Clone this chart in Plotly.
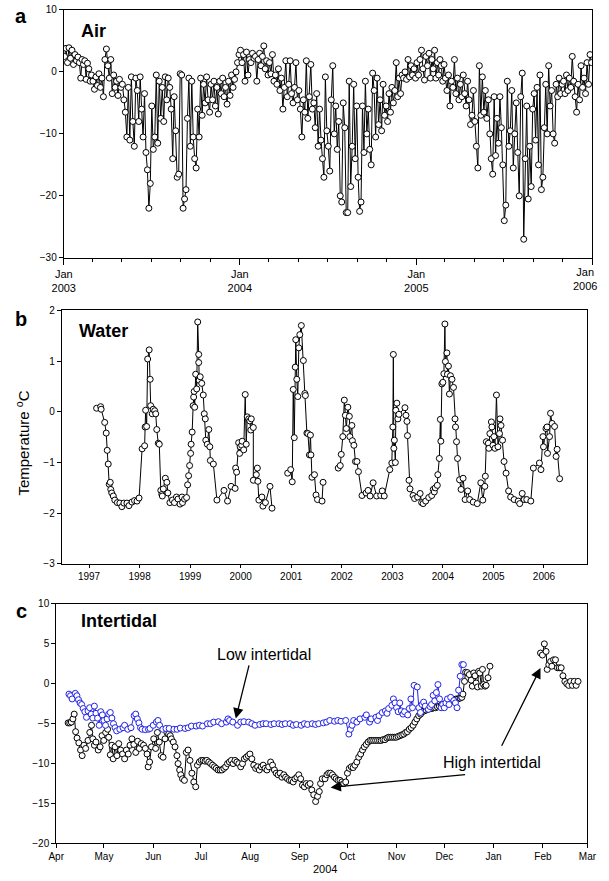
import pandas as pd
import plotly.graph_objects as go

W, H = 609, 881

# ---------------- Panel a: Air (per month, ~every 3 days) ----------------
air_2003 = [
    [2.5, 3.8, 1.5, 3.9, 2.2, 3.5, 1.2, 2.8, 1.8, 2.4],
    [1.5, -1.0, 2.0, 1.2, 1.8, -1.2, 1.4, 0.5, -1.5, -0.5],
    [-1.5, -2.8, -0.8, -2.2, -0.3, -2.5, -1.0, -4.0, 2.0, 3.7],
    [1.0, -1.0, 2.0, -3.5, -0.5, -2.5, -1.5, -3.8, -1.2, -2.5],
    [-2.0, -4.5, -6.5, -10.5, -2.5, -11.0, -0.8, -8.0, -12.0, -1.0],
    [-3.0, -8.0, -0.8, -6.0, -10.5, -3.5, -13.0, -15.8, -22.0, -18.0],
    [-5.5, -12.5, -10.5, -0.5, -11.5, -1.5, -7.5, -2.5, -8.0, -0.8],
    [-4.5, -1.0, -2.5, -6.0, -14.0, -4.0, -9.5, -17.0, -16.5, -0.3],
    [-0.5, -22.0, -20.5, -19.0, -7.5, -1.0, -12.0, -1.5, -10.5, -14.0],
    [-15.5, -6.0, -10.5, -1.0, -7.0, -2.0, -5.0, -0.8, -4.5, -6.5],
    [-2.0, -4.5, -1.5, -5.5, -2.5, -6.8, -1.5, -3.5, -1.0, -4.0],
    [-2.5, -5.2, -1.5, -3.8, -0.5, -2.5, -1.2, 0.0, 1.5, 2.8],
]
air_2004 = [
    [3.5, 1.5, 2.8, -1.5, 3.2, -0.5, 2.0, 1.5, 3.0, 2.2],
    [2.5, -1.5, 2.0, 3.0, 1.0, 2.5, 4.2, 0.5, 1.8, -0.5],
    [1.5, -0.3, 2.8, -1.5, -0.5, -2.0, 0.5, -3.0, -1.0, -6.0],
    [-2.5, 1.8, -4.0, -2.0, 1.8, -3.5, -5.0, -2.5, 1.5, -4.5],
    [-3.0, -6.0, -10.5, -4.5, -6.5, 1.8, -7.5, -4.0, 1.2, -6.0],
    [-5.0, -9.0, -3.5, -12.0, -6.0, -11.0, -14.0, -17.0, -0.8, -9.5],
    [-12.0, -16.0, -4.5, 1.0, -10.0, -5.5, -12.5, -8.0, -20.0, -21.0],
    [-5.0, -9.0, -22.7, -22.7, -1.5, -18.5, -12.0, -2.0, -14.0, -5.5],
    [-17.0, -22.5, -21.0, -5.5, -13.0, -1.5, -10.0, -6.0, -12.5, -15.0],
    [-0.2, -3.0, -10.5, -1.0, -8.5, -4.5, -9.5, -2.0, -7.0, -5.5],
    [-8.0, -3.5, -6.5, -2.5, -5.0, -3.0, 1.5, -4.0, -1.0, -3.5],
    [-0.5, -1.0, 0.0, -1.2, 2.0, -0.8, 1.0, -0.5, 0.5, -1.0],
]
air_2005 = [
    [1.5, -0.5, 2.0, 3.5, 0.5, -1.3, 2.5, 1.0, 3.0, -1.0],
    [2.0, 0.5, 3.5, -1.0, 1.5, -0.5, 2.0, 1.0, -1.5, 1.2],
    [-1.0, -3.0, -0.5, -5.5, -1.5, -2.5, 2.0, -3.5, -1.0, -4.5],
    [-2.0, -4.0, -0.5, -3.5, -5.5, -1.5, -4.5, -8.5, -7.0, -3.0],
    [-8.0, -12.0, -15.5, 1.0, -7.0, -0.8, -6.5, -3.0, -7.5, -4.5],
    [-10.0, -14.0, -16.5, -4.0, -13.5, -7.5, -11.5, -4.0, -9.0, -15.0],
    [-24.0, -21.5, -1.5, -12.0, -9.5, -3.0, -15.5, -10.0, -5.0, -13.0],
    [-20.0, -4.0, -0.2, -27.0, -14.0, -5.5, -20.5, -12.0, -18.5, -6.0],
    [-3.5, -11.0, -2.5, -15.0, -0.5, -19.0, -17.0, -9.0, -2.0, -10.0],
    [1.0, -5.5, -3.0, -10.0, -11.5, -2.0, -4.0, -1.0, -3.5, -2.0],
    [-1.5, -3.5, -0.5, -3.0, -1.0, -2.5, 2.5, -1.5, -4.0, -6.5],
    [-2.0, -4.5, 1.0, -2.5, -1.0, -3.5, 1.5, -2.0, 2.8, 1.5],
]
air_years = [2003, 2004, 2005]

air_x, air_y = [], []
for yr, months in zip(air_years, [air_2003, air_2004, air_2005]):
    for m, vals in enumerate(months, start=1):
        start = pd.Timestamp(year=yr, month=m, day=1)
        ndays = start.days_in_month
        for i, v in enumerate(vals):
            air_x.append(start + pd.Timedelta(days=(i + 0.5) * ndays / len(vals)))
            air_y.append(v)

# ---------------- Panel b: Water (decimal year) ----------------
water_year = [
    1997.15, 1997.23, 1997.24, 1997.31, 1997.34, 1997.36, 1997.38, 1997.40, 1997.42, 1997.43,
    1997.45, 1997.48, 1997.51, 1997.56, 1997.61, 1997.65, 1997.69, 1997.75, 1997.79, 1997.85,
    1997.90, 1997.95, 1997.99,
    1998.05, 1998.10, 1998.11, 1998.12, 1998.14, 1998.16, 1998.19, 1998.21, 1998.22, 1998.25,
    1998.27, 1998.30, 1998.32, 1998.34, 1998.37, 1998.39, 1998.42, 1998.44, 1998.45, 1998.47,
    1998.51, 1998.54, 1998.56, 1998.60, 1998.65, 1998.69, 1998.73, 1998.76, 1998.80, 1998.84,
    1998.85, 1998.89, 1998.93, 1998.95, 1998.97, 1998.99, 1999.01, 1999.02, 1999.04, 1999.06,
    1999.07, 1999.08, 1999.09, 1999.11, 1999.13, 1999.15, 1999.17, 1999.17, 1999.18, 1999.20,
    1999.23, 1999.26, 1999.28, 1999.30, 1999.31, 1999.34, 1999.37, 1999.39, 1999.40, 1999.46,
    1999.53, 1999.67, 1999.74, 1999.81, 1999.89, 1999.90, 1999.92, 1999.96, 1999.98, 1999.99,
    2000.02, 2000.03, 2000.06, 2000.09, 2000.11, 2000.13, 2000.16, 2000.18, 2000.20, 2000.21,
    2000.25, 2000.25, 2000.31, 2000.33, 2000.34, 2000.36, 2000.42, 2000.44, 2000.49, 2000.58,
    2000.62, None,
    2000.93, 2000.99, 2001.02, 2001.04, 2001.06, 2001.08, 2001.09, 2001.11, 2001.13, 2001.15,
    2001.17, 2001.20, 2001.24, 2001.27, 2001.28, 2001.31, 2001.33, 2001.36, 2001.38, 2001.39,
    2001.41, 2001.46, 2001.49, 2001.52, 2001.61, 2001.63, None,
    2001.93, 2001.97, 2001.99, 2002.02, 2002.05, 2002.07, 2002.09, 2002.12, 2002.15, 2002.16,
    2002.20, 2002.21, 2002.24, 2002.27, 2002.30, 2002.33, 2002.40, 2002.48, 2002.52, 2002.56,
    2002.62, 2002.69, 2002.77, 2002.80, 2002.84, 2002.95, 2002.99, 2003.01, 2003.02, 2003.03,
    2003.04, 2003.06, 2003.07, 2003.09, 2003.11, 2003.13, 2003.25, 2003.27, 2003.29, 2003.30,
    2003.33, 2003.35, 2003.41, 2003.44, 2003.50, 2003.55, 2003.58, 2003.61, 2003.66, 2003.72,
    2003.78, 2003.81, 2003.83, 2003.85, 2003.89, 2003.90, 2003.93, 2003.95, 2003.96, 2003.98,
    2004.00, 2004.02, 2004.04, 2004.05, 2004.08, 2004.09, 2004.11, 2004.13, 2004.15, 2004.18,
    2004.21, 2004.24, 2004.25, 2004.27, 2004.29, 2004.33, 2004.36, 2004.40, 2004.44, 2004.49,
    2004.53, 2004.60, 2004.68, 2004.75, 2004.79, 2004.83, 2004.84, 2004.86, 2004.90, 2004.91,
    2004.93, 2004.96, 2004.97, 2004.99, 2005.01, 2005.03, 2005.06, 2005.09, 2005.12, 2005.13,
    2005.15, 2005.18, 2005.21, 2005.25, 2005.30, 2005.34, 2005.41, 2005.49, 2005.52, 2005.57,
    2005.61, 2005.66, 2005.74, 2005.79, 2005.91, 2005.94, 2005.98, 2005.99, 2006.04, 2006.06,
    2006.07, 2006.11, 2006.13, 2006.16, 2006.21, 2006.24, 2006.26, 2006.31,
]
water_temp = [
    0.07, 0.10, 0.05, -0.21, -0.42, -0.76, -1.03, -1.43, -1.39, -1.53,
    -1.60, -1.66, -1.74, -1.79, -1.80, -1.87, -1.80, -1.80, -1.85, -1.78,
    -1.75, -1.76, -1.70,
    -0.73, -0.67, -0.30, 0.03, -0.29, 1.04, 1.22, 0.64, 0.12, -0.04,
    0.05, 0.02, -0.04, -0.35, -0.62, -0.64, -1.55, -1.63, -1.66, -1.52,
    -1.31, -1.39, -1.60, -1.79, -1.74, -1.79, -1.68, -1.72, -1.82, -1.68,
    -1.79, -1.72, -1.69, -1.44, -1.26, -1.06, -0.82, -0.64, -0.40, 0.12,
    0.29, 0.40, 0.09, 0.74, 0.45, 1.77, 1.13, 0.97, 0.62, 0.69,
    0.56, 0.33, -0.04, -0.14, -0.56, -0.64, -0.35, -0.69, -0.96, -1.03,
    -1.74, -1.55, -1.76, -1.47, -1.51, -1.11, -1.19, -0.61, -0.82, -0.69,
    -0.66, -0.58, -0.75, 0.34, -0.64, -0.10, -0.14, -0.18, -0.36, -0.14,
    -0.31, -1.35, -1.24, -1.11, -1.37, -1.74, -1.68, -1.86, -1.79, -1.47,
    -1.90, None,
    -1.21, -1.14, -1.38, 0.44, -0.51, 0.88, 1.42, 0.64, 0.30, 1.26,
    1.52, 1.70, 1.01, 0.36, 0.32, -0.42, -0.43, -0.85, -0.46, -0.85,
    -1.29, -1.24, -1.64, -1.73, -1.76, -1.39, None,
    -1.11, -1.06, -0.84, -0.49, 0.23, -0.07, -0.33, 0.09, -0.09, -0.49,
    -0.27, -0.57, -0.66, -0.98, -0.98, -1.18, -1.65, -1.60, -1.55, -1.66,
    -1.40, -1.66, -1.65, -1.56, -1.66, -1.14, -1.01, -0.30, 1.13, -0.72,
    -0.56, -1.00, 0.03, 0.17, -0.14, -0.05, 0.08, -0.07, -0.19, -0.47,
    -1.35, -1.52, -1.65, -1.71, -1.68, -1.61, -1.79, -1.81, -1.76, -1.69,
    -1.65, -1.53, -1.58, -1.50, -1.45, -1.24, -0.92, -0.15, -0.58, 0.55,
    0.58, 0.75, 1.73, 0.99, 1.16, 0.74, 0.90, 0.35, 0.71, 0.64,
    0.48, -0.14, -0.30, -0.59, -0.92, -1.34, -1.53, -1.31, -1.73, -1.56,
    -1.73, -1.78, -1.81, -1.40, -1.74, -1.47, -1.27, -0.59, -0.62, -0.72,
    -0.43, -0.20, -0.30, -0.66, -0.49, -0.72, 0.33, -0.69, -0.43, -0.14,
    -0.27, -0.56, -0.98, -1.21, -1.56, -1.68, -1.73, -1.76, -1.81, -1.61,
    -1.73, -1.73, -1.76, -1.11, -1.01, -1.14, -0.49, -0.69, -0.33, -0.30,
    -0.82, -0.49, -0.03, -0.23, -0.29, -0.88, -0.74, -1.32,
]
water_ticks = [1997, 1998, 1999, 2000, 2001, 2002, 2003, 2004, 2005, 2006]

# ---------------- Panel c: Intertidal (days since 1 Apr 2004) ----------------
low_day = [
    8, 9, 10, 12, 13, 14, 15, 16, 17, 18, 19, 20, 21, 22, 23, 24, 25, 26, 27, 28,
    29, 30, 31, 32, 33, 34, 35, 36, 37, 38, 40, 42, 43, 45, 47, 49, 50, 51, 52, 53,
    54, 56, 58, 59, 61, 63, 64, 65, 67, 69, 71, 74, 76, 78, 81, 83, 85, 88, 90, 92,
    95, 97, 99, 102, 104, 107, 108, 109, 111, 114, 116, 118, 121, 123, 125, 128, 130, 132, 135, 137,
    140, 142, 144, 147, 149, 151, 154, 156, 158, 161, 163, 165, 168, 170, 172, 175, 177, 179, 182, 184,
    185, 186, 187, 189, 191, 194, 195, 197, 198, 201, 202, 203, 205, 207, 208, 209, 211, 212, 213, 214,
    215, 216, 217, 218, 219, 221, 222, 223, 224, 225, 227, 228, 229, 230, 231, 232, 234, 235, 236, 237,
    238, 239, 240, 241, 242, 243, 244, 245, 246, 247, 248, 250, 251, 252, 253, 254, 255, 256,
]
low_temp = [
    -1.3, -1.5, -1.9, -1.2, -1.5, -2.0, -2.4, -2.6, -3.1, -3.5, -4.2, -3.4, -3.0, -3.8, -4.3, -2.8, -3.7, -4.3, -5.2, -3.5,
    -3.9, -4.6, -5.2, -4.4, -3.8, -3.6, -4.3, -5.0, -5.5, -5.9, -5.7, -5.5, -5.2, -5.7, -5.5, -4.0, -3.8, -4.4, -4.9, -5.5,
    -5.7, -5.75, -5.7, -5.6, -5.2, -4.8, -4.6, -5.2, -5.7, -5.6, -5.6, -5.7, -5.7, -5.55, -5.6, -5.5, -5.3, -5.3, -5.2, -5.3,
    -5.0, -5.0, -4.8, -4.75, -5.0, -4.8, -4.4, -4.6, -4.8, -5.2, -4.8, -4.75, -4.8, -5.0, -5.2, -5.1, -5.0, -5.0, -5.1, -5.0,
    -5.0, -5.1, -5.0, -5.0, -5.2, -5.1, -5.2, -5.0, -5.1, -5.0, -5.1, -5.0, -4.9, -4.8, -4.6, -4.7, -4.6, -4.7, -4.6, -6.3,
    -5.7, -5.2, -4.6, -4.8, -4.4, -4.2, -3.9, -4.8, -4.4, -4.2, -4.6, -4.0, -3.6, -3.4, -3.7, -3.1, -2.7, -1.9, -2.4, -3.0,
    -3.5, -2.4, -3.4, -3.8, -3.5, -3.9, -3.1, -1.9, -3.0, -0.2, -0.4, -3.0, -3.6, -2.6, -2.3, -2.8, -3.2, -2.85, -2.6, -1.45,
    -2.15, -1.1, -0.1, -1.9, -3.0, -2.6, -3.0, -2.4, -1.9, -2.6, -1.7, -2.1, -2.4, -3.0, -0.8, 0.95, 2.4, 2.4,
]
high_day = [
    7.5, 8.5, 9.5, 10.5, 11.3, 12.2, 13.1, 14.2, 15.3, 16.3, 17.4, 18.5, 20.0, 21.1, 22.2, 23.0, 24.0, 25.0, 26.4, 27.6,
    28.8, 29.9, 31.1, 32.3, 33.0, 34.0, 35.0, 35.8, 37.0, 38.2, 39.3, 40.5, 41.7, 43.0, 44.1, 45.3, 46.4, 47.6, 48.8, 50.0,
    51.2, 52.3, 53.5, 54.9, 56.0, 57.1, 57.8, 58.7, 59.9, 61.3, 62.5, 63.6, 64.8, 66.0, 67.2, 68.4, 69.6, 70.7, 71.7, 72.4,
    73.6, 74.7, 75.9, 76.6, 77.6, 78.3, 79.4, 80.6, 81.8, 82.9, 84.1, 85.3, 86.5, 87.7, 88.8, 90.0, 91.2, 92.4, 93.6, 94.7,
    95.9, 97.1, 98.3, 99.5, 100.6, 101.8, 103.0, 104.2, 105.4, 106.5, 107.7, 108.9, 110.1, 111.2, 112.4, 113.6, 114.8, 116.0, 117.1, 118.3,
    119.5, 120.7, 121.8, 123.0, 124.2, 125.4, 126.6, 127.7, 128.9, 130.1, 131.3, 132.5, 133.6, 134.8, 136.0, 137.2, 138.3, 139.5, 140.7, 141.9,
    143.1, 144.2, 145.4, 146.6, 147.8, 149.0, 150.1, 151.3, 152.5, 153.7, 154.8, 156.0, 157.2, 158.4, 159.6, 160.7, 161.9, 163.1, 164.3, 165.4,
    166.2, 167.3, 169.0, 170.2, 171.3, 172.5, 173.7, 174.9, 176.0, 177.2, 178.4, 179.6, 180.8, 182.0, 183.1, 184.3, 185.5, 186.7, 187.8, 189.0,
    190.2, 191.4, 192.6, 193.7, 194.9, 196.1, 197.3, 198.4, 199.6, 200.8, 202.0, 203.2, 204.3, 205.5, 206.7, 207.9, 209.0, 210.2, 211.4, 212.6,
    213.8, 214.9, 216.1, 217.3, 218.5, 219.7, 220.8, 222.0, 223.2, 224.4, 225.5, 226.7, 227.9, 229.1, 230.3, 231.4, 232.6, 233.8, 235.0, 236.2,
    237.3, 238.5, 239.7, 240.9, 242.1, 243.2, 244.4, 245.6, 246.8, 248.0, 249.1, 250.3, 251.5, 252.7, 253.9, 255.0, 255.7, 256.7, 257.4, 258.5,
    259.7, 260.9, 261.6, 262.5, 263.3, 264.0, 264.9, 265.6, 266.3, 267.3, 268.0, 268.7, 269.6, 270.3, 271.5, 272.7, None,
    304.5, 305.7, 306.9, 308.0, 308.7, 309.7, 310.9, 311.6, 312.7, 313.9, 315.1, 316.3, 317.5, 318.6, 319.8, 321.0, 322.2, 323.4, 324.5, 325.7,
    326.9, 328.1,
]
high_temp = [
    -4.9, -4.9, -4.8, -4.4, -3.8, -6.0, -6.8, -7.4, -8.3, -9.0, -7.7, -8.1, -7.1, -6.1, -5.2, -6.9, -7.7, -7.3, -8.3, -7.9,
    -6.5, -7.1, -6.1, -5.7, -6.7, -8.9, -7.7, -9.4, -7.9, -9.0, -7.5, -8.3, -8.8, -9.4, -8.3, -8.8, -7.7, -6.9, -7.6, -8.6,
    -7.2, -8.1, -7.5, -7.7, -8.1, -8.8, -10.4, -9.8, -7.9, -6.9, -8.1, -6.1, -7.3, -9.0, -9.2, -6.9, -6.1, -6.3, -6.5, -6.9,
    -7.3, -7.9, -9.0, -10.0, -10.8, -11.4, -11.9, -12.1, -8.6, -8.3, -9.6, -11.2, -12.3, -12.9, -10.2, -9.8, -9.6, -9.6, -9.7, -9.6,
    -9.8, -10.0, -10.2, -10.4, -10.6, -10.8, -10.8, -10.8, -10.6, -10.4, -10.0, -9.8, -9.6, -10.0, -9.6, -9.8, -10.0, -10.4, -10.0, -9.4,
    -9.2, -9.0, -8.8, -9.4, -10.2, -10.6, -10.4, -10.8, -10.4, -10.2, -10.6, -10.8, -10.4, -9.8, -10.2, -10.8, -11.2, -11.4, -11.2, -11.7,
    -11.4, -11.7, -11.9, -12.1, -12.1, -12.3, -11.9, -11.7, -11.4, -11.9, -12.7, -12.9, -12.5, -12.7, -12.5, -13.3, -13.9, -14.75, -14.1, -13.5,
    -12.5, -11.9, -11.9, -11.4, -11.2, -11.2, -11.4, -11.7, -11.9, -12.1, -12.1, -12.3, -12.5, -12.3, -11.2, -10.6, -10.4, -10.5, -10.2, -9.8,
    -9.2, -8.8, -8.3, -7.9, -7.6, -7.3, -7.1, -7.1, -7.1, -7.1, -7.1, -7.1, -7.1, -7.0, -7.0, -6.8, -6.7, -6.7, -6.7, -6.7,
    -6.7, -6.6, -6.5, -6.4, -6.3, -6.1, -6.0, -5.7, -5.5, -5.2, -4.8, -4.4, -4.0, -3.8, -3.5, -3.4, -3.3, -3.2, -3.1, -3.1,
    -3.0, -3.0, -2.9, -2.8, -2.7, -2.6, -2.5, -2.4, -2.3, -2.2, -2.2, -2.1, -1.9, -1.9, -1.8, -1.7, -1.3, 0.3, 1.45, 1.4,
    1.15, 0.45, -0.3, 1.35, 1.0, 0.1, -0.4, 1.55, 1.35, -0.3, 1.8, -0.1, -0.3, -0.2, 0.75, 2.2, None,
    3.85, 3.6, 5.0, 4.05, 1.8, 2.4, 2.8, 2.2, 3.0, 3.0, 2.0, 2.0, 2.0, 1.0, 0.3, 0.0, -0.2, 0.3, -0.2, 0.3,
    -0.2, 0.3,
]
month_labels = ["Apr", "May", "Jun", "Jul", "Aug", "Sep", "Oct", "Nov", "Dec", "Jan", "Feb", "Mar"]

base_c = pd.Timestamp("2004-04-01")
def to_dates(days):
    return [None if d is None else base_c + pd.Timedelta(days=d) for d in days]

low_x = to_dates(low_day)
high_x = to_dates(high_day)

# ---------------- figure ----------------
BLUE = "#2323e6"
mk_black = dict(symbol="circle", size=6, color="white", line=dict(color="black", width=1))
mk_blue = dict(symbol="circle", size=6, color="white", line=dict(color=BLUE, width=1))

fig = go.Figure()
fig.add_trace(go.Scatter(x=air_x, y=air_y, mode="lines+markers", line=dict(color="black", width=1),
                         marker=mk_black, xaxis="x", yaxis="y", showlegend=False))
fig.add_trace(go.Scatter(x=water_year, y=water_temp, mode="lines+markers", line=dict(color="black", width=1),
                         marker=mk_black, xaxis="x2", yaxis="y2", connectgaps=False, showlegend=False))
fig.add_trace(go.Scatter(x=high_x, y=high_temp, mode="lines+markers", line=dict(color="black", width=1),
                         marker=mk_black, xaxis="x3", yaxis="y3", connectgaps=False, showlegend=False))
fig.add_trace(go.Scatter(x=low_x, y=low_temp, mode="lines+markers", line=dict(color=BLUE, width=1),
                         marker=mk_blue, xaxis="x3", yaxis="y3", showlegend=False))

def py(p):  # pixel row -> paper y
    return 1 - p / H

def px(p):
    return p / W

tickfont = dict(family="Arial, Liberation Sans, sans-serif", size=10, color="black")
axis_common = dict(showline=True, linecolor="black", linewidth=1, mirror=True, showgrid=False,
                   zeroline=False, ticks="outside", tickcolor="black", tickfont=tickfont)

air_ticks = [pd.Timestamp(f"{y}-01-01") for y in [2003, 2004, 2005, 2006]]
air_ticktext = ["Jan<br>" + str(t.year) for t in air_ticks]
fig.update_layout(
    width=W, height=H, margin=dict(l=0, r=0, t=0, b=0),
    paper_bgcolor="white", plot_bgcolor="white",
    font=dict(family="Arial, Liberation Sans, sans-serif", color="black"),
    xaxis=dict(axis_common, domain=[px(53.6), px(601)], anchor="y", type="date",
               range=["2003-01-01", "2006-01-01"], tickvals=air_ticks,
               ticktext=air_ticktext[:-1] + [" "], ticklen=6,
               tickfont=dict(tickfont, size=11),
               minor=dict(dtick="M2", tick0="2003-01-01", ticks="outside", ticklen=3, tickcolor="black")),
    yaxis=dict(axis_common, domain=[py(255.3), py(4)], anchor="x", range=[-30, 10],
               tickvals=[-30, -20, -10, 0, 10], ticklen=4),
    xaxis2=dict(axis_common, domain=[px(51.5), px(596)], anchor="y2", range=[1996.46, 2006.86],
                tickvals=water_ticks, ticklen=3),
    yaxis2=dict(axis_common, domain=[py(565.7), py(308.5)], anchor="x2", range=[-3, 2],
                tickvals=[-3, -2, -1, 0, 1, 2], ticklen=4),
    xaxis3=dict(axis_common, domain=[px(45.8), px(596)], anchor="y3", type="date",
                range=["2004-04-01", "2005-03-01"],
                tickvals=list(pd.date_range("2004-04-01", "2005-03-01", freq="MS")),
                ticktext=month_labels, ticklen=4),
    yaxis3=dict(axis_common, domain=[py(849), py(606.2)], anchor="x3", range=[-20, 10],
                tickvals=[-20, -15, -10, -5, 0, 5, 10], ticklen=4),
)

ann = []
# panel letters
for lab, yy in [("a", 10), ("b", 317), ("c", 613)]:
    ann.append(dict(text=f"<b>{lab}</b>", xref="paper", yref="paper", x=px(9.5), y=py(yy),
                    xanchor="center", yanchor="middle", showarrow=False, font=dict(size=20)))
# panel titles
for lab, xx, yy in [("Air", 69, 25), ("Water", 67, 329), ("Intertidal", 69, 623)]:
    ann.append(dict(text=f"<b>{lab}</b>", xref="paper", yref="paper", x=px(xx), y=py(yy),
                    xanchor="left", yanchor="middle", showarrow=False, font=dict(size=18)))
# last tick label of panel a, kept inside the page
ann.append(dict(text=air_ticktext[-1], xref="paper", yref="paper", x=px(608), y=py(262),
                xanchor="right", yanchor="top", showarrow=False, align="center",
                font=dict(size=11)))
# year label under panel c
ann.append(dict(text="2004", xref="paper", yref="paper", x=px(324), y=py(875),
                xanchor="center", yanchor="middle", showarrow=False, font=dict(size=11)))
# y title
ann.append(dict(text="Temperature <sup>o</sup>C", xref="paper", yref="paper", x=px(11), y=py(443),
                xanchor="center", yanchor="middle", textangle=-90, showarrow=False, font=dict(size=15)))
# intertidal labels
ann.append(dict(text="Low intertidal", xref="paper", yref="paper", x=px(261), y=py(657),
                xanchor="center", yanchor="middle", showarrow=False, font=dict(size=16)))
ann.append(dict(text="High intertidal", xref="paper", yref="paper", x=px(497), y=py(767),
                xanchor="center", yanchor="middle", showarrow=False, font=dict(size=16)))
# arrows (head in data coords, tail as pixel offset)
arrow_style = dict(text="", showarrow=True, arrowhead=2, arrowsize=1.6, arrowwidth=1.3,
                   arrowcolor="black", xref="x3", yref="y3", axref="pixel", ayref="pixel")
for d, v, ax, ay in [(112.9, -4.35, 13.6, -54.7), (172.5, -12.98, 136, -13), (304.5, 1.98, -39.6, 79.3)]:
    ann.append(dict(arrow_style, x=base_c + pd.Timedelta(days=d), y=v, ax=ax, ay=ay))

fig.update_layout(annotations=ann)
fig.write_html("out.html", config={"displayModeBar": False},
               post_script="document.body.style.margin='0px';document.body.style.overflow='hidden';")
